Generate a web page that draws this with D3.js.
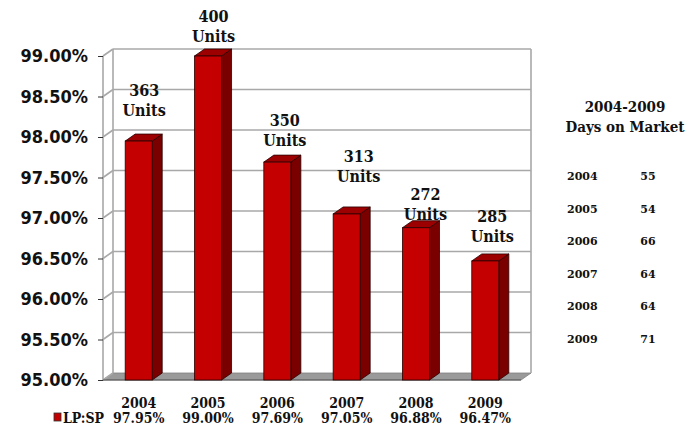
<!DOCTYPE html>
<html><head><meta charset="utf-8">
<script src="https://cdn.jsdelivr.net/npm/d3@7"></script>
<style>body{margin:0;background:#fff}svg{display:block}</style>
</head><body>
<script>
const years = ["2004","2005","2006","2007","2008","2009"];
const lpsp = [97.95, 99.00, 97.69, 97.05, 96.88, 96.47];
const units = [363, 400, 350, 313, 272, 285];
const domYears = ["2004","2005","2006","2007","2008","2009"];
const domDays = [55, 54, 66, 64, 64, 71];
const yTicks = [95, 95.5, 96, 96.5, 97, 97.5, 98, 98.5, 99];
// manual label nudges (dx, dy) relative to bar top
const labelNudge = [[5.5,-25],[5.5,-14],[7.5,-16],[12,-32],[9.5,-8],[7,-19]];

const W = 694, H = 427;
const svg = d3.select("body").append("svg").attr("width", W).attr("height", H);
const DX = 10, DY = 7;
const x = d3.scaleBand().domain(years).range([103, 521]).paddingInner(0.61).paddingOuter(0.32);
const y = d3.scaleLinear().domain([95, 99]).range([380, 56]);
const y0 = y(95), yTop = y(99);
const xL = 103, xR = 521;
const grid = "#a8a8a8";

// floor
svg.append("polygon")
  .attr("points", [[xL,y0],[xL+DX,y0-DY],[xR+DX,y0-DY],[xR,y0]].map(p=>p.join(",")).join(" "))
  .attr("fill", "#9a9a9a").attr("stroke", "#808080").attr("stroke-width", 0.8);

// back wall gridlines
const g = svg.append("g");
yTicks.forEach(t => {
  const yy = y(t);
  if (t > 95) {
    g.append("line").attr("x1", xL+DX).attr("x2", xR+DX).attr("y1", yy-DY).attr("y2", yy-DY)
      .attr("stroke", grid).attr("stroke-width", 1.6);
  }
  g.append("line").attr("x1", xL).attr("x2", xL+DX).attr("y1", yy).attr("y2", yy-DY)
    .attr("stroke", grid).attr("stroke-width", 1.6);
});
g.append("line").attr("x1", xL+DX).attr("x2", xL+DX).attr("y1", yTop-DY).attr("y2", y0-DY)
  .attr("stroke", grid).attr("stroke-width", 1.6);
g.append("line").attr("x1", xR+DX).attr("x2", xR+DX).attr("y1", yTop-DY).attr("y2", y0-DY)
  .attr("stroke", grid).attr("stroke-width", 1.6);
g.append("line").attr("x1", xL).attr("x2", xL).attr("y1", yTop).attr("y2", y0)
  .attr("stroke", grid).attr("stroke-width", 1.6);
g.append("line").attr("x1", xL).attr("x2", xR).attr("y1", y0).attr("y2", y0)
  .attr("stroke", "#555").attr("stroke-width", 1);

// y axis
const yAxis = svg.append("g").attr("transform", `translate(${xL},0)`)
  .call(d3.axisLeft(y).tickValues(yTicks).tickSize(5).tickPadding(10)
    .tickFormat(d => d.toFixed(2) + "%"));
yAxis.select(".domain").remove();
yAxis.selectAll(".tick line").attr("stroke", "#333");
yAxis.selectAll(".tick text")
  .attr("font-family", "'DejaVu Sans Condensed', 'DejaVu Sans', sans-serif")
  .attr("font-stretch", "condensed")
  .attr("font-weight", "bold").attr("font-size", 18).attr("fill", "#111");

// bars
const bw = x.bandwidth();
const bars = svg.append("g").selectAll("g").data(years).join("g");
bars.each(function(yr, i) {
  const el = d3.select(this);
  const bx = x(yr), by = y(lpsp[i]);
  el.append("polygon")
    .attr("points", [[bx+bw,by],[bx+bw+DX,by-DY],[bx+bw+DX,y0-DY],[bx+bw,y0]].map(p=>p.join(",")).join(" "))
    .attr("fill", "#7a0000").attr("stroke", "#2a0000").attr("stroke-width", 0.8);
  el.append("polygon")
    .attr("points", [[bx,by],[bx+DX,by-DY],[bx+bw+DX,by-DY],[bx+bw,by]].map(p=>p.join(",")).join(" "))
    .attr("fill", "#9c0000").attr("stroke", "#2a0000").attr("stroke-width", 0.8);
  el.append("rect").attr("x", bx).attr("y", by).attr("width", bw).attr("height", y0 - by)
    .attr("fill", "#c40000").attr("stroke", "#2a0000").attr("stroke-width", 0.8);
  // unit labels
  const cx = bx + bw/2 + labelNudge[i][0], base = by + labelNudge[i][1];
  const t = el.append("text").attr("text-anchor", "middle")
    .attr("font-family", "'DejaVu Serif Condensed', 'DejaVu Serif', serif")
    .attr("font-stretch", "condensed")
    .attr("font-weight", "bold").attr("font-size", 16).attr("fill", "#111");
  t.append("tspan").attr("x", cx).attr("y", base - 20).text(units[i]);
  t.append("tspan").attr("x", cx).attr("y", base).text("Units");
});

// x labels (data table style)
const xl = svg.append("g")
  .attr("font-family", "'DejaVu Serif Condensed', 'DejaVu Serif', serif")
  .attr("font-stretch", "condensed")
  .attr("font-weight", "bold").attr("font-size", 14).attr("fill", "#111");
years.forEach((yr, i) => {
  const cx = x(yr) + bw/2;
  xl.append("text").attr("x", cx).attr("y", 408).attr("text-anchor", "middle").text(yr);
  xl.append("text").attr("x", cx).attr("y", 423).attr("text-anchor", "middle").text(lpsp[i].toFixed(2) + "%");
});
svg.append("rect").attr("x", 54).attr("y", 413).attr("width", 7).attr("height", 8)
  .attr("fill", "#c40000").attr("stroke", "#333").attr("stroke-width", 0.8);
xl.append("text").attr("x", 63).attr("y", 423).text("LP:SP");

// right table
const tb = svg.append("g")
  .attr("font-family", "'DejaVu Serif Condensed', 'DejaVu Serif', serif")
  .attr("font-stretch", "condensed")
  .attr("font-weight", "bold").attr("fill", "#111");
tb.append("text").attr("x", 625).attr("y", 112).attr("text-anchor", "middle").attr("font-size", 15).text("2004-2009");
tb.append("text").attr("x", 625).attr("y", 132).attr("text-anchor", "middle").attr("font-size", 15).text("Days on Market");
const rowY = d3.scaleLinear().domain([0, 5]).range([180, 343]);
domYears.forEach((yr, i) => {
  tb.append("text").attr("x", 567).attr("y", rowY(i)).attr("font-size", 11)
    .attr("font-family", "'DejaVu Serif', serif").attr("font-stretch", "normal").text(yr);
  tb.append("text").attr("x", 648).attr("y", rowY(i)).attr("text-anchor", "middle").attr("font-size", 11)
    .attr("font-family", "'DejaVu Serif', serif").attr("font-stretch", "normal").text(domDays[i]);
});
</script>
</body></html>
